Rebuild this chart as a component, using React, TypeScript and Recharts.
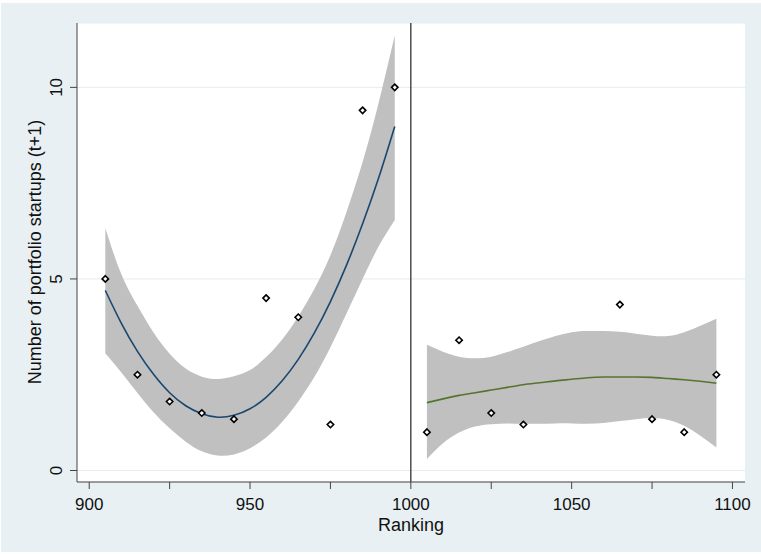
import {
  ComposedChart,
  Area,
  Line,
  Scatter,
  XAxis,
  YAxis,
  CartesianGrid,
  ReferenceLine,
  Label,
} from "recharts";

// binned means (diamonds)
const leftPtsX = [905, 915, 925, 935, 945, 955, 965, 975, 985, 995];
const leftPtsY = [5.0, 2.5, 1.8, 1.5, 1.34, 4.5, 4.0, 1.2, 9.4, 10.0];
const rightPtsX = [1005, 1015, 1025, 1035, 1065, 1075, 1085, 1095];
const rightPtsY = [1.0, 3.4, 1.5, 1.2, 4.33, 1.34, 1.0, 2.5];

// quadratic fit below the cutoff, with its confidence band
const leftX = [905, 910, 915, 920, 925, 930, 935, 940, 945, 950, 955, 960, 965, 970, 975, 980, 985, 990, 995];
const leftFit = [4.7, 3.84, 3.11, 2.51, 2.03, 1.69, 1.48, 1.39, 1.44, 1.61, 1.91, 2.34, 2.9, 3.59, 4.41, 5.36, 6.44, 7.64, 8.98];
const leftLo = [3.06, 2.56, 2.02, 1.52, 1.1, 0.75, 0.5, 0.39, 0.42, 0.58, 0.86, 1.27, 1.8, 2.44, 3.22, 4.1, 5.0, 5.85, 6.54];
const leftHi = [6.32, 5.12, 4.3, 3.6, 3.05, 2.66, 2.45, 2.39, 2.46, 2.62, 2.96, 3.42, 4.02, 4.74, 5.62, 6.75, 8.05, 9.6, 11.36];

// fit above the cutoff
const rightX = [1005, 1010, 1015, 1020, 1025, 1030, 1035, 1040, 1045, 1050, 1055, 1060, 1065, 1070, 1075, 1080, 1085, 1090, 1095];
const rightFit = [1.77, 1.87, 1.96, 2.03, 2.1, 2.17, 2.24, 2.29, 2.34, 2.38, 2.42, 2.44, 2.44, 2.44, 2.43, 2.4, 2.37, 2.33, 2.28];
const rightLo = [0.3, 0.71, 0.99, 1.15, 1.21, 1.23, 1.22, 1.22, 1.23, 1.23, 1.22, 1.24, 1.29, 1.34, 1.37, 1.32, 1.17, 0.91, 0.6];
const rightHi = [3.28, 3.1, 2.97, 2.93, 2.97, 3.09, 3.23, 3.38, 3.51, 3.61, 3.64, 3.64, 3.62, 3.57, 3.52, 3.51, 3.61, 3.78, 3.96];

const xTicks = [900, 925, 950, 975, 1000, 1025, 1050, 1075, 1100];
const yTicks = [0, 5, 10];
const cutoff = 1000;

const leftPts = leftPtsX.map((x, i) => ({ x, y: leftPtsY[i] }));
const rightPts = rightPtsX.map((x, i) => ({ x, y: rightPtsY[i] }));
const leftCurve = leftX.map((x, i) => ({ x, fit: leftFit[i], band: [leftLo[i], leftHi[i]] }));
const rightCurve = rightX.map((x, i) => ({ x, fit: rightFit[i], band: [rightLo[i], rightHi[i]] }));

const FONT = "'Liberation Sans', Arial, Helvetica, sans-serif";
const BG = "#e8f0f3";
const AXIS = "#444";

const Diamond = (props: any) => {
  const { cx, cy } = props;
  const r = 3.2;
  return (
    <path
      d={`M${cx},${cy - r} L${cx + r},${cy} L${cx},${cy + r} L${cx - r},${cy} Z`}
      fill="#fff"
      stroke="#000"
      strokeWidth={1.6}
    />
  );
};

const XTick = ({ x, y, payload }: any) =>
  payload.value % 50 === 0 ? (
    <text x={x} y={y + 19} textAnchor="middle" fontSize={17} fontFamily={FONT} fill="#111">
      {payload.value}
    </text>
  ) : null;

const YTick = ({ x, y, payload }: any) => (
  <text
    x={x - 6}
    y={y}
    textAnchor="middle"
    fontSize={17}
    fontFamily={FONT}
    fill="#111"
    transform={`rotate(-90, ${x - 6}, ${y})`}
  >
    {payload.value}
  </text>
);

export default function App() {
  return (
    <div style={{ position: "absolute", left: 0, top: 0, width: 761, height: 554, background: "#fff" }}>
      <div style={{ position: "absolute", left: 1, top: 3, width: 760, height: 549, background: BG }} />
      <div style={{ position: "absolute", left: 0, top: 0 }}>
        <ComposedChart width={761} height={554} margin={{ top: 23, right: 16, bottom: 22, left: 17 }}>
          <CartesianGrid vertical={false} stroke="#e4edf0" fill="#fff" />
          <XAxis
            type="number"
            dataKey="x"
            domain={[896.2, 1103.9]}
            ticks={xTicks}
            allowDataOverflow
            height={50}
            tickSize={7}
            tick={<XTick />}
            stroke={AXIS}
          >
            <Label
              content={() => (
                <text x={411} y={531} textAnchor="middle" fontSize={18} fontFamily={FONT} fill="#111">
                  Ranking
                </text>
              )}
            />
          </XAxis>
          <YAxis
            type="number"
            domain={[-0.3, 11.68]}
            ticks={yTicks}
            allowDataOverflow
            width={60}
            tickSize={7}
            tick={<YTick />}
            stroke={AXIS}
          >
            <Label
              content={() => (
                <text
                  x={41}
                  y={252}
                  textAnchor="middle"
                  fontSize={18}
                  fontFamily={FONT}
                  fill="#111"
                  transform="rotate(-90, 41, 252)"
                >
                  Number of portfolio startups (t+1)
                </text>
              )}
            />
          </YAxis>
          <Area data={leftCurve} dataKey="band" type="natural" stroke="none" fill="#c0c0c0" fillOpacity={1} isAnimationActive={false} />
          <Area data={rightCurve} dataKey="band" type="natural" stroke="none" fill="#c0c0c0" fillOpacity={1} isAnimationActive={false} />
          <Line data={leftCurve} dataKey="fit" type="natural" stroke="#1a476f" strokeWidth={1.6} dot={false} isAnimationActive={false} />
          <Line data={rightCurve} dataKey="fit" type="natural" stroke="#55752f" strokeWidth={1.6} dot={false} isAnimationActive={false} />
          <ReferenceLine x={cutoff} stroke="#222" strokeWidth={1.2} />
          <Scatter data={leftPts} dataKey="y" shape={<Diamond />} isAnimationActive={false} />
          <Scatter data={rightPts} dataKey="y" shape={<Diamond />} isAnimationActive={false} />
        </ComposedChart>
      </div>
    </div>
  );
}
